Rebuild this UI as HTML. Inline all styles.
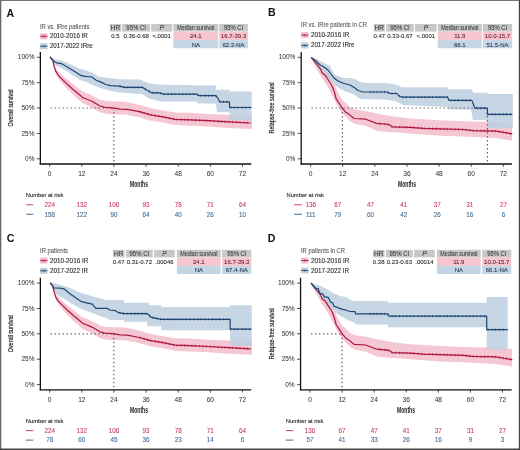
<!DOCTYPE html>
<html><head><meta charset="utf-8"><style>
html,body{margin:0;padding:0;background:#fff;}
body{width:520px;height:450px;overflow:hidden;}
svg{display:block;font-family:"Liberation Sans", sans-serif;filter:blur(0.35px);}
</style></head><body>
<svg width="520" height="450" viewBox="0 0 520 450">
<rect x="0" y="0" width="520" height="450" fill="#fff"/>
<text x="6.60" y="17.10" font-size="10.6" fill="#111" text-anchor="start" font-weight="bold">A</text>
<text x="40.00" y="28.60" font-size="6.5" fill="#555" text-anchor="start" textLength="49.4" lengthAdjust="spacingAndGlyphs" stroke="#555" stroke-width="0.08">IR vs. IRre patients</text>
<rect x="40.20" y="33.30" width="7.2" height="6.0" fill="#f3bccb"/>
<line x1="40.20" y1="36.30" x2="47.40" y2="36.30" stroke="#ad153c" stroke-width="0.9"/>
<line x1="43.80" y1="35.20" x2="43.80" y2="37.40" stroke="#ad153c" stroke-width="0.7"/>
<text x="49.90" y="38.20" font-size="6.3" fill="#2a2a2a" text-anchor="start" textLength="38.0" lengthAdjust="spacingAndGlyphs" stroke="#2a2a2a" stroke-width="0.1">2010-2016 IR</text>
<rect x="40.20" y="43.20" width="7.2" height="6.0" fill="#bccfdf"/>
<line x1="40.20" y1="46.20" x2="47.40" y2="46.20" stroke="#1d4672" stroke-width="0.9"/>
<line x1="43.80" y1="45.10" x2="43.80" y2="47.30" stroke="#1d4672" stroke-width="0.7"/>
<text x="49.90" y="48.10" font-size="6.3" fill="#2a2a2a" text-anchor="start" textLength="42.8" lengthAdjust="spacingAndGlyphs" stroke="#2a2a2a" stroke-width="0.1">2017-2022 IRre</text>
<rect x="109.70" y="24.00" width="11.50" height="7.60" fill="#c8c8c8"/>
<text x="115.45" y="30.00" font-size="6.5" fill="#333" text-anchor="middle" stroke="#333" stroke-width="0.05">HR</text>
<rect x="122.20" y="24.00" width="27.90" height="7.60" fill="#c8c8c8"/>
<text x="136.15" y="30.00" font-size="6.4" fill="#333" text-anchor="middle" textLength="19.6" lengthAdjust="spacingAndGlyphs" stroke="#333" stroke-width="0.05">95% CI</text>
<rect x="151.20" y="24.00" width="21.00" height="7.60" fill="#c8c8c8"/>
<text x="161.70" y="30.00" font-size="6.5" fill="#333" text-anchor="middle" font-style="italic" stroke="#333" stroke-width="0.05">P</text>
<rect x="173.40" y="24.00" width="44.80" height="7.60" fill="#c8c8c8"/>
<text x="195.80" y="30.00" font-size="6.5" fill="#333" text-anchor="middle" textLength="37.2" lengthAdjust="spacingAndGlyphs" stroke="#333" stroke-width="0.05">Median survival</text>
<rect x="219.20" y="24.00" width="28.70" height="7.60" fill="#c8c8c8"/>
<text x="233.55" y="30.00" font-size="6.4" fill="#333" text-anchor="middle" textLength="19.2" lengthAdjust="spacingAndGlyphs" stroke="#333" stroke-width="0.05">95% CI</text>
<rect x="173.40" y="31.60" width="44.80" height="8.50" fill="#f5c6cf"/>
<rect x="173.40" y="40.10" width="44.80" height="8.10" fill="#c4d6e3"/>
<rect x="219.20" y="31.60" width="28.70" height="8.50" fill="#f5c6cf"/>
<rect x="219.20" y="40.10" width="28.70" height="8.10" fill="#c4d6e3"/>
<text x="115.45" y="38.20" font-size="6" fill="#2a2a2a" text-anchor="middle" stroke="#2a2a2a" stroke-width="0.1">0.5</text>
<text x="136.15" y="38.20" font-size="6" fill="#2a2a2a" text-anchor="middle" stroke="#2a2a2a" stroke-width="0.1">0.36-0.68</text>
<text x="161.70" y="38.20" font-size="6" fill="#2a2a2a" text-anchor="middle" stroke="#2a2a2a" stroke-width="0.1">&lt;.0001</text>
<text x="195.80" y="38.10" font-size="6" fill="#6d1e2e" text-anchor="middle" stroke="#6d1e2e" stroke-width="0.1">24.1</text>
<text x="195.80" y="46.60" font-size="6" fill="#1f3650" text-anchor="middle" stroke="#1f3650" stroke-width="0.1">NA</text>
<text x="233.55" y="38.10" font-size="6" fill="#6d1e2e" text-anchor="middle" stroke="#6d1e2e" stroke-width="0.1">16.7-39.3</text>
<text x="233.55" y="46.60" font-size="6" fill="#1f3650" text-anchor="middle" stroke="#1f3650" stroke-width="0.1">62.3-NA</text>
<polygon points="50.00,57.00 52.00,57.67 54.00,63.33 56.00,68.65 58.00,71.31 60.00,73.21 63.00,75.79 66.00,78.40 70.00,81.70 74.00,84.78 78.00,87.85 82.00,91.17 86.00,93.00 90.00,94.49 95.00,96.94 100.00,99.75 105.00,100.85 110.00,101.16 125.00,101.70 140.00,105.00 150.00,108.00 163.00,110.50 175.00,112.50 190.00,112.80 208.00,114.00 228.00,114.80 252.00,116.00 252.00,129.00 228.00,128.00 208.00,126.50 190.00,125.70 175.00,125.00 163.00,122.50 150.00,120.50 140.00,117.50 125.00,114.40 110.00,114.16 105.00,113.60 100.00,112.25 95.00,109.19 90.00,106.49 86.00,104.73 82.00,102.64 78.00,99.05 74.00,95.58 70.00,91.70 66.00,87.60 63.00,84.21 60.00,80.79 58.00,78.31 56.00,74.45 54.00,67.93 52.00,60.33 50.00,57.00" fill="#f3bccb" fill-opacity="0.85"/>
<polygon points="50.00,57.00 56.00,59.80 60.00,60.00 68.00,63.00 80.00,68.70 85.00,70.10 91.90,72.40 98.80,76.40 108.00,78.10 119.60,79.30 140.00,79.50 149.00,83.50 160.80,84.70 215.80,85.50 215.80,89.80 229.60,89.80 229.60,91.50 251.70,91.50 251.70,120.30 229.60,120.30 229.60,112.30 217.00,112.30 215.80,103.60 198.00,103.60 196.50,101.40 160.80,101.40 149.20,98.50 142.70,94.30 119.60,92.60 108.00,90.30 96.50,86.80 85.00,81.60 80.00,80.00 68.00,72.00 60.00,67.30 56.00,65.90 53.00,63.00 50.00,57.00" fill="#bccfdf" fill-opacity="0.85"/>
<line x1="50.50" y1="108.00" x2="113.80" y2="108.00" stroke="#666" stroke-width="1.2" stroke-dasharray="1.4,2.6"/>
<line x1="113.80" y1="108.00" x2="113.80" y2="163.50" stroke="#666" stroke-width="1.2" stroke-dasharray="1.4,2.6"/>
<polyline points="50.00,57.00 52.80,59.80 53.90,65.30 55.60,70.90 58.30,75.30 62.80,79.80 67.20,84.20 72.80,89.20 78.30,93.70 82.80,97.60 85.10,98.50 92.00,101.30 100.00,106.00 105.30,107.30 113.10,107.90 120.00,109.10 127.10,109.30 139.50,111.70 150.40,114.80 162.90,116.80 175.30,119.40 190.00,119.90 208.00,120.70 228.20,121.80 250.80,123.00" fill="none" stroke="#ad153c" stroke-width="1.2" stroke-linejoin="round"/>
<path d="M140.00 110.74V112.94M144.00 111.88V114.08M147.50 112.88V115.08M151.00 113.80V116.00M155.00 114.44V116.64M158.50 115.00V117.20M162.50 115.64V117.84M166.00 116.35V118.55M169.50 117.08V119.28M173.50 117.92V120.12M177.00 118.36V120.56M181.00 118.49V120.69M184.50 118.61V120.81M188.00 118.73V120.93M192.00 118.89V121.09M195.50 119.04V121.24M199.50 119.22V121.42M203.00 119.38V121.58M206.50 119.53V121.73M210.50 119.74V121.94M214.00 119.93V122.13M218.00 120.14V122.34M221.50 120.34V122.54M225.00 120.53V122.73M229.00 120.74V122.94M232.50 120.93V123.13M236.50 121.14V123.34M240.00 121.33V123.53M244.00 121.54V123.74M247.50 121.72V123.92" stroke="#ad153c" stroke-width="0.8" fill="none"/>
<polyline points="50.00,57.00 53.30,60.90 57.20,63.10 61.70,63.70 67.20,67.00 73.90,70.90 80.60,75.30 85.00,76.40 91.90,77.00 96.50,80.50 100.00,81.60 105.80,84.50 110.40,85.60 119.60,86.20 124.20,87.40 142.70,87.40 145.00,89.10 151.50,92.80 159.60,92.80 163.10,94.10 196.50,94.10 198.80,95.60 215.80,95.60 218.10,98.50 219.80,101.90 229.40,101.90 229.60,107.50 251.50,107.50" fill="none" stroke="#1d4672" stroke-width="1.2" stroke-linejoin="round"/>
<path d="M120.00 85.20V87.40M123.50 86.12V88.32M127.00 86.30V88.50M131.00 86.30V88.50M134.50 86.30V88.50M138.00 86.30V88.50M142.00 86.30V88.50M145.50 88.28V90.48M149.50 90.56V92.76M153.00 91.70V93.90M156.50 91.70V93.90M160.50 92.03V94.23M164.00 93.00V95.20M168.00 93.00V95.20M171.50 93.00V95.20M175.00 93.00V95.20M179.00 93.00V95.20M182.50 93.00V95.20M186.50 93.00V95.20M190.00 93.00V95.20M194.00 93.00V95.20M197.50 93.65V95.85M201.00 94.50V96.70M205.00 94.50V96.70M208.50 94.50V96.70M212.50 94.50V96.70M216.00 94.75V96.95M219.50 100.20V102.40M223.50 100.80V103.00M227.00 100.80V103.00M231.00 106.40V108.60M234.50 106.40V108.60M238.00 106.40V108.60M242.00 106.40V108.60M245.50 106.40V108.60M249.50 106.40V108.60" stroke="#1d4672" stroke-width="0.8" fill="none"/>
<line x1="40.35" y1="51.90" x2="40.35" y2="164.60" stroke="#111" stroke-width="1.3"/>
<line x1="39.75" y1="164.00" x2="251.30" y2="164.00" stroke="#111" stroke-width="1.3"/>
<line x1="36.85" y1="57.30" x2="40.35" y2="57.30" stroke="#222" stroke-width="0.8"/>
<text x="34.45" y="59.00" font-size="6.5" fill="#3a3a3a" text-anchor="end" stroke="#3a3a3a" stroke-width="0.05">100%</text>
<line x1="36.85" y1="82.70" x2="40.35" y2="82.70" stroke="#222" stroke-width="0.8"/>
<text x="34.45" y="84.90" font-size="6.5" fill="#3a3a3a" text-anchor="end" stroke="#3a3a3a" stroke-width="0.05">75%</text>
<line x1="36.85" y1="108.00" x2="40.35" y2="108.00" stroke="#222" stroke-width="0.8"/>
<text x="34.45" y="110.20" font-size="6.5" fill="#3a3a3a" text-anchor="end" stroke="#3a3a3a" stroke-width="0.05">50%</text>
<line x1="36.85" y1="133.40" x2="40.35" y2="133.40" stroke="#222" stroke-width="0.8"/>
<text x="34.45" y="135.60" font-size="6.5" fill="#3a3a3a" text-anchor="end" stroke="#3a3a3a" stroke-width="0.05">25%</text>
<line x1="36.85" y1="158.80" x2="40.35" y2="158.80" stroke="#222" stroke-width="0.8"/>
<text x="34.45" y="161.00" font-size="6.5" fill="#3a3a3a" text-anchor="end" stroke="#3a3a3a" stroke-width="0.05">0%</text>
<line x1="49.70" y1="164.00" x2="49.70" y2="166.80" stroke="#222" stroke-width="0.8"/>
<text x="49.70" y="175.90" font-size="6.6" fill="#3a3a3a" text-anchor="middle" stroke="#3a3a3a" stroke-width="0.05">0</text>
<line x1="81.82" y1="164.00" x2="81.82" y2="166.80" stroke="#222" stroke-width="0.8"/>
<text x="81.82" y="175.90" font-size="6.6" fill="#3a3a3a" text-anchor="middle" stroke="#3a3a3a" stroke-width="0.05">12</text>
<line x1="113.94" y1="164.00" x2="113.94" y2="166.80" stroke="#222" stroke-width="0.8"/>
<text x="113.94" y="175.90" font-size="6.6" fill="#3a3a3a" text-anchor="middle" stroke="#3a3a3a" stroke-width="0.05">24</text>
<line x1="146.06" y1="164.00" x2="146.06" y2="166.80" stroke="#222" stroke-width="0.8"/>
<text x="146.06" y="175.90" font-size="6.6" fill="#3a3a3a" text-anchor="middle" stroke="#3a3a3a" stroke-width="0.05">36</text>
<line x1="178.18" y1="164.00" x2="178.18" y2="166.80" stroke="#222" stroke-width="0.8"/>
<text x="178.18" y="175.90" font-size="6.6" fill="#3a3a3a" text-anchor="middle" stroke="#3a3a3a" stroke-width="0.05">48</text>
<line x1="210.30" y1="164.00" x2="210.30" y2="166.80" stroke="#222" stroke-width="0.8"/>
<text x="210.30" y="175.90" font-size="6.6" fill="#3a3a3a" text-anchor="middle" stroke="#3a3a3a" stroke-width="0.05">60</text>
<line x1="242.42" y1="164.00" x2="242.42" y2="166.80" stroke="#222" stroke-width="0.8"/>
<text x="242.42" y="175.90" font-size="6.6" fill="#3a3a3a" text-anchor="middle" stroke="#3a3a3a" stroke-width="0.05">72</text>
<text x="139.00" y="186.90" font-size="8.2" fill="#222" text-anchor="middle" font-weight="bold" textLength="18" lengthAdjust="spacingAndGlyphs">Months</text>
<g transform="translate(13.40,108.00) rotate(-90)"><text x="0" y="0" font-size="7.2" fill="#333" stroke="#333" stroke-width="0.25" text-anchor="middle" textLength="37.0" lengthAdjust="spacingAndGlyphs">Overall survival</text></g>
<text x="25.80" y="197.00" font-size="5.8" fill="#222" text-anchor="start" textLength="37.5" lengthAdjust="spacingAndGlyphs" stroke="#222" stroke-width="0.1">Number at risk</text>
<line x1="26.30" y1="204.80" x2="33.30" y2="204.80" stroke="#cc3d66" stroke-width="1"/>
<line x1="26.30" y1="214.30" x2="33.30" y2="214.30" stroke="#446d94" stroke-width="1"/>
<text x="49.70" y="207.00" font-size="6.3" fill="#cc3d66" text-anchor="middle" stroke="#cc3d66" stroke-width="0.1">224</text>
<text x="49.70" y="216.60" font-size="6.3" fill="#446d94" text-anchor="middle" stroke="#446d94" stroke-width="0.1">158</text>
<text x="81.82" y="207.00" font-size="6.3" fill="#cc3d66" text-anchor="middle" stroke="#cc3d66" stroke-width="0.1">132</text>
<text x="81.82" y="216.60" font-size="6.3" fill="#446d94" text-anchor="middle" stroke="#446d94" stroke-width="0.1">122</text>
<text x="113.94" y="207.00" font-size="6.3" fill="#cc3d66" text-anchor="middle" stroke="#cc3d66" stroke-width="0.1">106</text>
<text x="113.94" y="216.60" font-size="6.3" fill="#446d94" text-anchor="middle" stroke="#446d94" stroke-width="0.1">90</text>
<text x="146.06" y="207.00" font-size="6.3" fill="#cc3d66" text-anchor="middle" stroke="#cc3d66" stroke-width="0.1">93</text>
<text x="146.06" y="216.60" font-size="6.3" fill="#446d94" text-anchor="middle" stroke="#446d94" stroke-width="0.1">64</text>
<text x="178.18" y="207.00" font-size="6.3" fill="#cc3d66" text-anchor="middle" stroke="#cc3d66" stroke-width="0.1">78</text>
<text x="178.18" y="216.60" font-size="6.3" fill="#446d94" text-anchor="middle" stroke="#446d94" stroke-width="0.1">40</text>
<text x="210.30" y="207.00" font-size="6.3" fill="#cc3d66" text-anchor="middle" stroke="#cc3d66" stroke-width="0.1">71</text>
<text x="210.30" y="216.60" font-size="6.3" fill="#446d94" text-anchor="middle" stroke="#446d94" stroke-width="0.1">26</text>
<text x="242.42" y="207.00" font-size="6.3" fill="#cc3d66" text-anchor="middle" stroke="#cc3d66" stroke-width="0.1">64</text>
<text x="242.42" y="216.60" font-size="6.3" fill="#446d94" text-anchor="middle" stroke="#446d94" stroke-width="0.1">10</text>
<text x="267.90" y="15.80" font-size="10.6" fill="#111" text-anchor="start" font-weight="bold">B</text>
<text x="301.00" y="27.40" font-size="6.5" fill="#555" text-anchor="start" textLength="66.0" lengthAdjust="spacingAndGlyphs" stroke="#555" stroke-width="0.08">IR vs. IRre patients in CR</text>
<rect x="301.20" y="32.10" width="7.2" height="6.0" fill="#f3bccb"/>
<line x1="301.20" y1="35.10" x2="308.40" y2="35.10" stroke="#ad153c" stroke-width="0.9"/>
<line x1="304.80" y1="34.00" x2="304.80" y2="36.20" stroke="#ad153c" stroke-width="0.7"/>
<text x="310.90" y="37.10" font-size="6.3" fill="#2a2a2a" text-anchor="start" textLength="38.4" lengthAdjust="spacingAndGlyphs" stroke="#2a2a2a" stroke-width="0.1">2010-2016 IR</text>
<rect x="301.20" y="42.40" width="7.2" height="6.0" fill="#bccfdf"/>
<line x1="301.20" y1="45.40" x2="308.40" y2="45.40" stroke="#1d4672" stroke-width="0.9"/>
<line x1="304.80" y1="44.30" x2="304.80" y2="46.50" stroke="#1d4672" stroke-width="0.7"/>
<text x="310.90" y="47.40" font-size="6.3" fill="#2a2a2a" text-anchor="start" textLength="43.6" lengthAdjust="spacingAndGlyphs" stroke="#2a2a2a" stroke-width="0.1">2017-2022 IRre</text>
<rect x="373.70" y="24.00" width="11.20" height="7.60" fill="#c8c8c8"/>
<text x="379.30" y="30.00" font-size="6.5" fill="#333" text-anchor="middle" stroke="#333" stroke-width="0.05">HR</text>
<rect x="386.10" y="24.00" width="27.80" height="7.60" fill="#c8c8c8"/>
<text x="400.00" y="30.00" font-size="6.4" fill="#333" text-anchor="middle" textLength="19.6" lengthAdjust="spacingAndGlyphs" stroke="#333" stroke-width="0.05">95% CI</text>
<rect x="415.00" y="24.00" width="21.60" height="7.60" fill="#c8c8c8"/>
<text x="425.80" y="30.00" font-size="6.5" fill="#333" text-anchor="middle" font-style="italic" stroke="#333" stroke-width="0.05">P</text>
<rect x="437.80" y="24.00" width="44.00" height="7.60" fill="#c8c8c8"/>
<text x="459.80" y="30.00" font-size="6.5" fill="#333" text-anchor="middle" textLength="37.2" lengthAdjust="spacingAndGlyphs" stroke="#333" stroke-width="0.05">Median survival</text>
<rect x="482.80" y="24.00" width="29.40" height="7.60" fill="#c8c8c8"/>
<text x="497.50" y="30.00" font-size="6.4" fill="#333" text-anchor="middle" textLength="19.2" lengthAdjust="spacingAndGlyphs" stroke="#333" stroke-width="0.05">95% CI</text>
<rect x="437.80" y="31.60" width="44.00" height="8.50" fill="#f5c6cf"/>
<rect x="437.80" y="40.10" width="44.00" height="8.10" fill="#c4d6e3"/>
<rect x="482.80" y="31.60" width="29.40" height="8.50" fill="#f5c6cf"/>
<rect x="482.80" y="40.10" width="29.40" height="8.10" fill="#c4d6e3"/>
<text x="379.30" y="38.20" font-size="6" fill="#2a2a2a" text-anchor="middle" stroke="#2a2a2a" stroke-width="0.1">0.47</text>
<text x="400.00" y="38.20" font-size="6" fill="#2a2a2a" text-anchor="middle" stroke="#2a2a2a" stroke-width="0.1">0.33-0.67</text>
<text x="425.80" y="38.20" font-size="6" fill="#2a2a2a" text-anchor="middle" stroke="#2a2a2a" stroke-width="0.1">&lt;.0001</text>
<text x="459.80" y="38.10" font-size="6" fill="#6d1e2e" text-anchor="middle" stroke="#6d1e2e" stroke-width="0.1">11.9</text>
<text x="459.80" y="46.60" font-size="6" fill="#1f3650" text-anchor="middle" stroke="#1f3650" stroke-width="0.1">66.1</text>
<text x="497.50" y="38.10" font-size="6" fill="#6d1e2e" text-anchor="middle" stroke="#6d1e2e" stroke-width="0.1">10.0-15.7</text>
<text x="497.50" y="46.60" font-size="6" fill="#1f3650" text-anchor="middle" stroke="#1f3650" stroke-width="0.1">51.5-NA</text>
<polygon points="311.00,57.00 316.00,61.00 320.00,64.00 324.00,68.00 328.00,73.00 332.00,79.00 335.00,86.00 338.00,93.00 342.00,99.50 346.00,103.00 350.00,107.00 355.00,109.50 366.00,111.00 377.00,113.50 390.00,116.00 410.00,118.50 440.00,120.20 463.00,121.20 496.00,122.00 512.00,123.00 512.00,140.70 496.00,138.10 463.00,136.50 440.00,135.80 410.00,133.50 390.00,132.00 377.00,131.00 366.00,126.00 355.00,124.00 350.00,121.00 346.00,117.00 342.00,113.00 337.00,105.00 334.00,99.00 330.00,91.00 326.00,84.00 322.00,78.00 318.00,71.00 314.00,64.00 311.00,57.00" fill="#f3bccb" fill-opacity="0.85"/>
<polygon points="311.00,57.00 316.00,58.50 320.00,61.00 330.00,66.00 334.00,74.00 338.00,76.00 344.00,78.00 350.00,78.00 355.00,79.00 360.00,82.00 365.00,83.00 387.00,83.00 397.00,85.00 402.00,87.30 447.70,87.30 447.70,89.20 472.00,89.20 473.00,92.70 487.40,92.70 487.40,93.90 512.80,93.90 512.80,128.00 487.40,128.00 487.40,119.90 473.00,119.90 471.00,109.80 447.70,109.30 447.70,106.90 403.00,105.00 395.00,101.00 385.00,99.50 360.00,99.00 355.00,95.00 350.00,93.00 344.00,91.00 334.00,85.00 328.00,78.00 320.00,70.00 314.00,62.00 311.00,57.00" fill="#bccfdf" fill-opacity="0.85"/>
<line x1="311.50" y1="108.00" x2="487.40" y2="108.00" stroke="#666" stroke-width="1.2" stroke-dasharray="1.4,2.6"/>
<line x1="342.40" y1="108.00" x2="342.40" y2="163.50" stroke="#666" stroke-width="1.2" stroke-dasharray="1.4,2.6"/>
<line x1="487.40" y1="108.00" x2="487.40" y2="163.50" stroke="#666" stroke-width="1.2" stroke-dasharray="1.4,2.6"/>
<polyline points="311.20,57.40 316.70,64.40 320.60,69.10 322.10,73.00 325.20,75.30 328.30,80.00 332.20,86.20 334.50,92.40 336.10,98.70 339.20,103.30 342.30,108.00 345.40,111.90 348.70,114.10 354.10,118.50 365.80,119.20 376.70,123.40 389.10,124.50 392.40,126.90 410.00,127.30 423.50,128.40 440.00,128.80 463.30,129.50 472.70,130.60 496.00,131.10 505.30,132.70 512.30,133.90" fill="none" stroke="#ad153c" stroke-width="1.2" stroke-linejoin="round"/>
<path d="M380.00 122.59V124.79M385.00 123.04V125.24M388.00 123.30V125.50M392.00 125.51V127.71M395.50 125.87V128.07M399.50 125.96V128.16M403.00 126.04V128.24M406.50 126.12V128.32M410.50 126.24V128.44M414.00 126.53V128.73M418.00 126.85V129.05M421.50 127.14V129.34M425.00 127.34V129.54M429.00 127.43V129.63M432.50 127.52V129.72M436.50 127.62V129.82M440.00 127.70V129.90M444.00 127.82V130.02M447.50 127.93V130.13M451.00 128.03V130.23M455.00 128.15V130.35M458.50 128.26V130.46M462.50 128.38V130.58M466.00 128.72V130.92M469.50 129.13V131.33M473.50 129.52V131.72M477.00 129.59V131.79M481.00 129.68V131.88M484.50 129.75V131.95M488.00 129.83V132.03M492.00 129.91V132.11M495.50 129.99V132.19M499.50 130.60V132.80M503.00 131.20V133.40M506.50 131.81V134.01M510.50 132.49V134.69" stroke="#ad153c" stroke-width="0.8" fill="none"/>
<polyline points="311.20,57.40 316.00,61.00 320.00,65.00 324.00,67.00 328.00,70.00 331.00,74.00 334.00,78.00 338.00,81.00 344.00,83.50 350.00,85.00 355.00,88.00 358.00,90.50 363.00,92.00 387.00,92.00 390.00,93.50 397.00,93.50 399.00,96.00 402.00,97.10 447.70,97.10 448.90,100.30 471.90,100.40 473.40,104.30 475.00,108.20 487.40,108.20 487.40,114.40 512.30,114.40" fill="none" stroke="#1d4672" stroke-width="1.2" stroke-linejoin="round"/>
<path d="M370.00 90.90V93.10M373.50 90.90V93.10M377.00 90.90V93.10M381.00 90.90V93.10M384.50 90.90V93.10M388.00 91.40V93.60M392.00 92.40V94.60M395.50 92.40V94.60M399.50 95.08V97.28M403.00 96.00V98.20M406.50 96.00V98.20M410.50 96.00V98.20M414.00 96.00V98.20M418.00 96.00V98.20M421.50 96.00V98.20M425.00 96.00V98.20M429.00 96.00V98.20M432.50 96.00V98.20M436.50 96.00V98.20M440.00 96.00V98.20M444.00 96.00V98.20M447.50 96.00V98.20M451.00 99.21V101.41M455.00 99.23V101.43M458.50 99.24V101.44M462.50 99.26V101.46M466.00 99.27V101.47M469.50 99.29V101.49M473.50 103.44V105.64M477.00 107.10V109.30M481.00 107.10V109.30M484.50 107.10V109.30M488.00 113.30V115.50M492.00 113.30V115.50M495.50 113.30V115.50M499.50 113.30V115.50M503.00 113.30V115.50M506.50 113.30V115.50M510.50 113.30V115.50" stroke="#1d4672" stroke-width="0.8" fill="none"/>
<line x1="301.20" y1="51.90" x2="301.20" y2="164.60" stroke="#111" stroke-width="1.3"/>
<line x1="300.60" y1="164.00" x2="511.90" y2="164.00" stroke="#111" stroke-width="1.3"/>
<line x1="297.70" y1="57.30" x2="301.20" y2="57.30" stroke="#222" stroke-width="0.8"/>
<text x="295.30" y="59.00" font-size="6.5" fill="#3a3a3a" text-anchor="end" stroke="#3a3a3a" stroke-width="0.05">100%</text>
<line x1="297.70" y1="82.70" x2="301.20" y2="82.70" stroke="#222" stroke-width="0.8"/>
<text x="295.30" y="84.90" font-size="6.5" fill="#3a3a3a" text-anchor="end" stroke="#3a3a3a" stroke-width="0.05">75%</text>
<line x1="297.70" y1="108.00" x2="301.20" y2="108.00" stroke="#222" stroke-width="0.8"/>
<text x="295.30" y="110.20" font-size="6.5" fill="#3a3a3a" text-anchor="end" stroke="#3a3a3a" stroke-width="0.05">50%</text>
<line x1="297.70" y1="133.40" x2="301.20" y2="133.40" stroke="#222" stroke-width="0.8"/>
<text x="295.30" y="135.60" font-size="6.5" fill="#3a3a3a" text-anchor="end" stroke="#3a3a3a" stroke-width="0.05">25%</text>
<line x1="297.70" y1="158.80" x2="301.20" y2="158.80" stroke="#222" stroke-width="0.8"/>
<text x="295.30" y="161.00" font-size="6.5" fill="#3a3a3a" text-anchor="end" stroke="#3a3a3a" stroke-width="0.05">0%</text>
<line x1="310.60" y1="164.00" x2="310.60" y2="166.80" stroke="#222" stroke-width="0.8"/>
<text x="310.60" y="175.90" font-size="6.6" fill="#3a3a3a" text-anchor="middle" stroke="#3a3a3a" stroke-width="0.05">0</text>
<line x1="342.72" y1="164.00" x2="342.72" y2="166.80" stroke="#222" stroke-width="0.8"/>
<text x="342.72" y="175.90" font-size="6.6" fill="#3a3a3a" text-anchor="middle" stroke="#3a3a3a" stroke-width="0.05">12</text>
<line x1="374.84" y1="164.00" x2="374.84" y2="166.80" stroke="#222" stroke-width="0.8"/>
<text x="374.84" y="175.90" font-size="6.6" fill="#3a3a3a" text-anchor="middle" stroke="#3a3a3a" stroke-width="0.05">24</text>
<line x1="406.96" y1="164.00" x2="406.96" y2="166.80" stroke="#222" stroke-width="0.8"/>
<text x="406.96" y="175.90" font-size="6.6" fill="#3a3a3a" text-anchor="middle" stroke="#3a3a3a" stroke-width="0.05">36</text>
<line x1="439.08" y1="164.00" x2="439.08" y2="166.80" stroke="#222" stroke-width="0.8"/>
<text x="439.08" y="175.90" font-size="6.6" fill="#3a3a3a" text-anchor="middle" stroke="#3a3a3a" stroke-width="0.05">48</text>
<line x1="471.20" y1="164.00" x2="471.20" y2="166.80" stroke="#222" stroke-width="0.8"/>
<text x="471.20" y="175.90" font-size="6.6" fill="#3a3a3a" text-anchor="middle" stroke="#3a3a3a" stroke-width="0.05">60</text>
<line x1="503.32" y1="164.00" x2="503.32" y2="166.80" stroke="#222" stroke-width="0.8"/>
<text x="503.32" y="175.90" font-size="6.6" fill="#3a3a3a" text-anchor="middle" stroke="#3a3a3a" stroke-width="0.05">72</text>
<text x="407.00" y="186.90" font-size="8.2" fill="#222" text-anchor="middle" font-weight="bold" textLength="18" lengthAdjust="spacingAndGlyphs">Months</text>
<g transform="translate(274.10,108.00) rotate(-90)"><text x="0" y="0" font-size="7.2" fill="#333" stroke="#333" stroke-width="0.25" text-anchor="middle" textLength="51.0" lengthAdjust="spacingAndGlyphs">Relapse-free survival</text></g>
<text x="286.50" y="197.00" font-size="5.8" fill="#222" text-anchor="start" textLength="37.5" lengthAdjust="spacingAndGlyphs" stroke="#222" stroke-width="0.1">Number at risk</text>
<line x1="294.20" y1="204.80" x2="301.80" y2="204.80" stroke="#cc3d66" stroke-width="1"/>
<line x1="294.20" y1="214.30" x2="301.80" y2="214.30" stroke="#446d94" stroke-width="1"/>
<text x="310.70" y="207.00" font-size="6.3" fill="#cc3d66" text-anchor="middle" stroke="#cc3d66" stroke-width="0.1">136</text>
<text x="310.70" y="216.60" font-size="6.3" fill="#446d94" text-anchor="middle" stroke="#446d94" stroke-width="0.1">111</text>
<text x="337.70" y="207.00" font-size="6.3" fill="#cc3d66" text-anchor="middle" stroke="#cc3d66" stroke-width="0.1">67</text>
<text x="337.70" y="216.60" font-size="6.3" fill="#446d94" text-anchor="middle" stroke="#446d94" stroke-width="0.1">79</text>
<text x="370.60" y="207.00" font-size="6.3" fill="#cc3d66" text-anchor="middle" stroke="#cc3d66" stroke-width="0.1">47</text>
<text x="370.60" y="216.60" font-size="6.3" fill="#446d94" text-anchor="middle" stroke="#446d94" stroke-width="0.1">60</text>
<text x="403.70" y="207.00" font-size="6.3" fill="#cc3d66" text-anchor="middle" stroke="#cc3d66" stroke-width="0.1">41</text>
<text x="403.70" y="216.60" font-size="6.3" fill="#446d94" text-anchor="middle" stroke="#446d94" stroke-width="0.1">42</text>
<text x="437.30" y="207.00" font-size="6.3" fill="#cc3d66" text-anchor="middle" stroke="#cc3d66" stroke-width="0.1">37</text>
<text x="437.30" y="216.60" font-size="6.3" fill="#446d94" text-anchor="middle" stroke="#446d94" stroke-width="0.1">26</text>
<text x="469.80" y="207.00" font-size="6.3" fill="#cc3d66" text-anchor="middle" stroke="#cc3d66" stroke-width="0.1">31</text>
<text x="469.80" y="216.60" font-size="6.3" fill="#446d94" text-anchor="middle" stroke="#446d94" stroke-width="0.1">16</text>
<text x="503.40" y="207.00" font-size="6.3" fill="#cc3d66" text-anchor="middle" stroke="#cc3d66" stroke-width="0.1">27</text>
<text x="503.40" y="216.60" font-size="6.3" fill="#446d94" text-anchor="middle" stroke="#446d94" stroke-width="0.1">6</text>
<text x="6.70" y="241.50" font-size="10.6" fill="#111" text-anchor="start" font-weight="bold">C</text>
<text x="40.00" y="252.90" font-size="6.5" fill="#555" text-anchor="start" textLength="28.0" lengthAdjust="spacingAndGlyphs" stroke="#555" stroke-width="0.08">IR patients</text>
<rect x="40.20" y="257.60" width="7.2" height="6.0" fill="#f3bccb"/>
<line x1="40.20" y1="260.60" x2="47.40" y2="260.60" stroke="#ad153c" stroke-width="0.9"/>
<line x1="43.80" y1="259.50" x2="43.80" y2="261.70" stroke="#ad153c" stroke-width="0.7"/>
<text x="49.90" y="263.00" font-size="6.3" fill="#2a2a2a" text-anchor="start" textLength="38.4" lengthAdjust="spacingAndGlyphs" stroke="#2a2a2a" stroke-width="0.1">2010-2016 IR</text>
<rect x="40.20" y="267.80" width="7.2" height="6.0" fill="#bccfdf"/>
<line x1="40.20" y1="270.80" x2="47.40" y2="270.80" stroke="#1d4672" stroke-width="0.9"/>
<line x1="43.80" y1="269.70" x2="43.80" y2="271.90" stroke="#1d4672" stroke-width="0.7"/>
<text x="49.90" y="273.20" font-size="6.3" fill="#2a2a2a" text-anchor="start" textLength="38.2" lengthAdjust="spacingAndGlyphs" stroke="#2a2a2a" stroke-width="0.1">2017-2022 IR</text>
<rect x="112.80" y="249.80" width="11.70" height="7.60" fill="#c8c8c8"/>
<text x="118.65" y="255.80" font-size="6.5" fill="#333" text-anchor="middle" stroke="#333" stroke-width="0.05">HR</text>
<rect x="125.90" y="249.80" width="26.90" height="7.60" fill="#c8c8c8"/>
<text x="139.35" y="255.80" font-size="6.4" fill="#333" text-anchor="middle" textLength="19.6" lengthAdjust="spacingAndGlyphs" stroke="#333" stroke-width="0.05">95% CI</text>
<rect x="154.10" y="249.80" width="20.70" height="7.60" fill="#c8c8c8"/>
<text x="164.45" y="255.80" font-size="6.5" fill="#333" text-anchor="middle" font-style="italic" stroke="#333" stroke-width="0.05">P</text>
<rect x="176.90" y="249.80" width="43.80" height="7.60" fill="#c8c8c8"/>
<text x="198.80" y="255.80" font-size="6.5" fill="#333" text-anchor="middle" textLength="37.2" lengthAdjust="spacingAndGlyphs" stroke="#333" stroke-width="0.05">Median survival</text>
<rect x="222.20" y="249.80" width="29.10" height="7.60" fill="#c8c8c8"/>
<text x="236.75" y="255.80" font-size="6.4" fill="#333" text-anchor="middle" textLength="19.2" lengthAdjust="spacingAndGlyphs" stroke="#333" stroke-width="0.05">95% CI</text>
<rect x="176.90" y="257.40" width="43.80" height="8.50" fill="#f5c6cf"/>
<rect x="176.90" y="265.90" width="43.80" height="8.10" fill="#c4d6e3"/>
<rect x="222.20" y="257.40" width="29.10" height="8.50" fill="#f5c6cf"/>
<rect x="222.20" y="265.90" width="29.10" height="8.10" fill="#c4d6e3"/>
<text x="118.65" y="264.00" font-size="6" fill="#2a2a2a" text-anchor="middle" stroke="#2a2a2a" stroke-width="0.1">0.47</text>
<text x="139.35" y="264.00" font-size="6" fill="#2a2a2a" text-anchor="middle" stroke="#2a2a2a" stroke-width="0.1">0.31-0.72</text>
<text x="164.45" y="264.00" font-size="6" fill="#2a2a2a" text-anchor="middle" stroke="#2a2a2a" stroke-width="0.1">.00046</text>
<text x="198.80" y="263.90" font-size="6" fill="#6d1e2e" text-anchor="middle" stroke="#6d1e2e" stroke-width="0.1">24.1</text>
<text x="198.80" y="272.40" font-size="6" fill="#1f3650" text-anchor="middle" stroke="#1f3650" stroke-width="0.1">NA</text>
<text x="236.75" y="263.90" font-size="6" fill="#6d1e2e" text-anchor="middle" stroke="#6d1e2e" stroke-width="0.1">16.7-39.3</text>
<text x="236.75" y="272.40" font-size="6" fill="#1f3650" text-anchor="middle" stroke="#1f3650" stroke-width="0.1">67.4-NA</text>
<polygon points="50.00,282.80 52.00,283.47 54.00,289.13 56.00,294.45 58.00,297.11 60.00,299.01 63.00,301.59 66.00,304.20 70.00,307.50 74.00,310.58 78.00,313.65 82.00,316.97 86.00,318.80 90.00,320.29 95.00,322.74 100.00,325.55 105.00,326.65 110.00,326.96 125.00,327.50 140.00,330.80 150.00,333.80 163.00,336.30 175.00,338.30 190.00,338.60 208.00,339.80 228.00,340.60 252.00,341.80 252.00,354.80 228.00,353.80 208.00,352.30 190.00,351.50 175.00,350.80 163.00,348.30 150.00,346.30 140.00,343.30 125.00,340.20 110.00,339.96 105.00,339.40 100.00,338.05 95.00,334.99 90.00,332.29 86.00,330.53 82.00,328.44 78.00,324.85 74.00,321.38 70.00,317.50 66.00,313.40 63.00,310.01 60.00,306.59 58.00,304.11 56.00,300.25 54.00,293.73 52.00,286.13 50.00,282.80" fill="#f3bccb" fill-opacity="0.85"/>
<polygon points="50.00,282.50 56.00,283.50 69.00,287.50 80.00,292.50 95.00,297.00 106.00,300.00 124.00,300.00 124.00,302.70 148.90,302.70 148.90,305.30 161.30,305.30 161.30,306.90 230.00,306.90 230.00,305.30 251.80,305.30 251.80,345.70 230.00,345.70 230.00,330.20 161.30,330.20 161.30,326.30 147.30,326.30 147.30,321.70 124.00,321.70 124.00,320.10 110.00,320.10 106.00,318.00 95.00,314.00 80.00,308.50 69.00,301.90 56.00,294.00 53.00,289.00 50.00,282.50" fill="#bccfdf" fill-opacity="0.85"/>
<line x1="50.50" y1="333.80" x2="113.80" y2="333.80" stroke="#666" stroke-width="1.2" stroke-dasharray="1.4,2.6"/>
<line x1="113.80" y1="333.80" x2="113.80" y2="389.30" stroke="#666" stroke-width="1.2" stroke-dasharray="1.4,2.6"/>
<polyline points="50.00,282.80 52.80,285.60 53.90,291.10 55.60,296.70 58.30,301.10 62.80,305.60 67.20,310.00 72.80,315.00 78.30,319.50 82.80,323.40 85.10,324.30 92.00,327.10 100.00,331.80 105.30,333.10 113.10,333.70 120.00,334.90 127.10,335.10 139.50,337.50 150.40,340.60 162.90,342.60 175.30,345.20 190.00,345.70 208.00,346.50 228.20,347.60 250.80,348.80" fill="none" stroke="#ad153c" stroke-width="1.2" stroke-linejoin="round"/>
<path d="M140.00 336.54V338.74M144.00 337.68V339.88M147.50 338.68V340.88M151.00 339.60V341.80M155.00 340.24V342.44M158.50 340.80V343.00M162.50 341.44V343.64M166.00 342.15V344.35M169.50 342.88V345.08M173.50 343.72V345.92M177.00 344.16V346.36M181.00 344.29V346.49M184.50 344.41V346.61M188.00 344.53V346.73M192.00 344.69V346.89M195.50 344.84V347.04M199.50 345.02V347.22M203.00 345.18V347.38M206.50 345.33V347.53M210.50 345.54V347.74M214.00 345.73V347.93M218.00 345.94V348.14M221.50 346.14V348.34M225.00 346.33V348.53M229.00 346.54V348.74M232.50 346.73V348.93M236.50 346.94V349.14M240.00 347.13V349.33M244.00 347.34V349.54M247.50 347.52V349.72" stroke="#ad153c" stroke-width="0.8" fill="none"/>
<polyline points="50.30,282.80 53.90,288.00 60.00,288.10 64.60,289.20 69.20,293.30 75.00,297.30 80.80,301.30 87.70,303.10 92.30,304.20 95.80,308.30 107.30,308.30 109.60,310.00 115.40,310.60 117.70,312.30 124.00,313.60 147.30,313.60 151.20,317.30 161.30,319.30 230.10,319.30 230.10,329.10 251.50,329.10" fill="none" stroke="#1d4672" stroke-width="1.2" stroke-linejoin="round"/>
<path d="M120.00 311.67V313.87M123.50 312.40V314.60M127.00 312.50V314.70M131.00 312.50V314.70M134.50 312.50V314.70M138.00 312.50V314.70M142.00 312.50V314.70M145.50 312.50V314.70M149.50 314.59V316.79M153.00 316.56V318.76M156.50 317.25V319.45M160.50 318.04V320.24M164.00 318.20V320.40M168.00 318.20V320.40M171.50 318.20V320.40M175.00 318.20V320.40M179.00 318.20V320.40M182.50 318.20V320.40M186.50 318.20V320.40M190.00 318.20V320.40M194.00 318.20V320.40M197.50 318.20V320.40M201.00 318.20V320.40M205.00 318.20V320.40M208.50 318.20V320.40M212.50 318.20V320.40M216.00 318.20V320.40M219.50 318.20V320.40M223.50 318.20V320.40M227.00 318.20V320.40M231.00 328.00V330.20M234.50 328.00V330.20M238.00 328.00V330.20M242.00 328.00V330.20M245.50 328.00V330.20M249.50 328.00V330.20" stroke="#1d4672" stroke-width="0.8" fill="none"/>
<line x1="40.35" y1="277.70" x2="40.35" y2="390.40" stroke="#111" stroke-width="1.3"/>
<line x1="39.75" y1="389.80" x2="251.30" y2="389.80" stroke="#111" stroke-width="1.3"/>
<line x1="36.85" y1="283.10" x2="40.35" y2="283.10" stroke="#222" stroke-width="0.8"/>
<text x="34.45" y="284.80" font-size="6.5" fill="#3a3a3a" text-anchor="end" stroke="#3a3a3a" stroke-width="0.05">100%</text>
<line x1="36.85" y1="308.50" x2="40.35" y2="308.50" stroke="#222" stroke-width="0.8"/>
<text x="34.45" y="310.70" font-size="6.5" fill="#3a3a3a" text-anchor="end" stroke="#3a3a3a" stroke-width="0.05">75%</text>
<line x1="36.85" y1="333.80" x2="40.35" y2="333.80" stroke="#222" stroke-width="0.8"/>
<text x="34.45" y="336.00" font-size="6.5" fill="#3a3a3a" text-anchor="end" stroke="#3a3a3a" stroke-width="0.05">50%</text>
<line x1="36.85" y1="359.20" x2="40.35" y2="359.20" stroke="#222" stroke-width="0.8"/>
<text x="34.45" y="361.40" font-size="6.5" fill="#3a3a3a" text-anchor="end" stroke="#3a3a3a" stroke-width="0.05">25%</text>
<line x1="36.85" y1="384.60" x2="40.35" y2="384.60" stroke="#222" stroke-width="0.8"/>
<text x="34.45" y="386.80" font-size="6.5" fill="#3a3a3a" text-anchor="end" stroke="#3a3a3a" stroke-width="0.05">0%</text>
<line x1="49.70" y1="389.80" x2="49.70" y2="392.60" stroke="#222" stroke-width="0.8"/>
<text x="49.70" y="401.70" font-size="6.6" fill="#3a3a3a" text-anchor="middle" stroke="#3a3a3a" stroke-width="0.05">0</text>
<line x1="81.82" y1="389.80" x2="81.82" y2="392.60" stroke="#222" stroke-width="0.8"/>
<text x="81.82" y="401.70" font-size="6.6" fill="#3a3a3a" text-anchor="middle" stroke="#3a3a3a" stroke-width="0.05">12</text>
<line x1="113.94" y1="389.80" x2="113.94" y2="392.60" stroke="#222" stroke-width="0.8"/>
<text x="113.94" y="401.70" font-size="6.6" fill="#3a3a3a" text-anchor="middle" stroke="#3a3a3a" stroke-width="0.05">24</text>
<line x1="146.06" y1="389.80" x2="146.06" y2="392.60" stroke="#222" stroke-width="0.8"/>
<text x="146.06" y="401.70" font-size="6.6" fill="#3a3a3a" text-anchor="middle" stroke="#3a3a3a" stroke-width="0.05">36</text>
<line x1="178.18" y1="389.80" x2="178.18" y2="392.60" stroke="#222" stroke-width="0.8"/>
<text x="178.18" y="401.70" font-size="6.6" fill="#3a3a3a" text-anchor="middle" stroke="#3a3a3a" stroke-width="0.05">48</text>
<line x1="210.30" y1="389.80" x2="210.30" y2="392.60" stroke="#222" stroke-width="0.8"/>
<text x="210.30" y="401.70" font-size="6.6" fill="#3a3a3a" text-anchor="middle" stroke="#3a3a3a" stroke-width="0.05">60</text>
<line x1="242.42" y1="389.80" x2="242.42" y2="392.60" stroke="#222" stroke-width="0.8"/>
<text x="242.42" y="401.70" font-size="6.6" fill="#3a3a3a" text-anchor="middle" stroke="#3a3a3a" stroke-width="0.05">72</text>
<text x="139.00" y="412.70" font-size="8.2" fill="#222" text-anchor="middle" font-weight="bold" textLength="18" lengthAdjust="spacingAndGlyphs">Months</text>
<g transform="translate(13.40,333.80) rotate(-90)"><text x="0" y="0" font-size="7.2" fill="#333" stroke="#333" stroke-width="0.25" text-anchor="middle" textLength="37.0" lengthAdjust="spacingAndGlyphs">Overall survival</text></g>
<text x="25.80" y="422.80" font-size="5.8" fill="#222" text-anchor="start" textLength="37.5" lengthAdjust="spacingAndGlyphs" stroke="#222" stroke-width="0.1">Number at risk</text>
<line x1="25.80" y1="430.60" x2="33.30" y2="430.60" stroke="#cc3d66" stroke-width="1"/>
<line x1="25.80" y1="440.10" x2="33.30" y2="440.10" stroke="#446d94" stroke-width="1"/>
<text x="49.70" y="432.80" font-size="6.3" fill="#cc3d66" text-anchor="middle" stroke="#cc3d66" stroke-width="0.1">224</text>
<text x="49.70" y="442.40" font-size="6.3" fill="#446d94" text-anchor="middle" stroke="#446d94" stroke-width="0.1">78</text>
<text x="81.82" y="432.80" font-size="6.3" fill="#cc3d66" text-anchor="middle" stroke="#cc3d66" stroke-width="0.1">132</text>
<text x="81.82" y="442.40" font-size="6.3" fill="#446d94" text-anchor="middle" stroke="#446d94" stroke-width="0.1">60</text>
<text x="113.94" y="432.80" font-size="6.3" fill="#cc3d66" text-anchor="middle" stroke="#cc3d66" stroke-width="0.1">106</text>
<text x="113.94" y="442.40" font-size="6.3" fill="#446d94" text-anchor="middle" stroke="#446d94" stroke-width="0.1">45</text>
<text x="146.06" y="432.80" font-size="6.3" fill="#cc3d66" text-anchor="middle" stroke="#cc3d66" stroke-width="0.1">93</text>
<text x="146.06" y="442.40" font-size="6.3" fill="#446d94" text-anchor="middle" stroke="#446d94" stroke-width="0.1">36</text>
<text x="178.18" y="432.80" font-size="6.3" fill="#cc3d66" text-anchor="middle" stroke="#cc3d66" stroke-width="0.1">78</text>
<text x="178.18" y="442.40" font-size="6.3" fill="#446d94" text-anchor="middle" stroke="#446d94" stroke-width="0.1">23</text>
<text x="210.30" y="432.80" font-size="6.3" fill="#cc3d66" text-anchor="middle" stroke="#cc3d66" stroke-width="0.1">71</text>
<text x="210.30" y="442.40" font-size="6.3" fill="#446d94" text-anchor="middle" stroke="#446d94" stroke-width="0.1">14</text>
<text x="242.42" y="432.80" font-size="6.3" fill="#cc3d66" text-anchor="middle" stroke="#cc3d66" stroke-width="0.1">64</text>
<text x="242.42" y="442.40" font-size="6.3" fill="#446d94" text-anchor="middle" stroke="#446d94" stroke-width="0.1">6</text>
<text x="267.70" y="241.50" font-size="10.6" fill="#111" text-anchor="start" font-weight="bold">D</text>
<text x="301.00" y="253.00" font-size="6.5" fill="#555" text-anchor="start" textLength="44.0" lengthAdjust="spacingAndGlyphs" stroke="#555" stroke-width="0.08">IR patients in CR</text>
<rect x="301.20" y="257.50" width="7.2" height="6.0" fill="#f3bccb"/>
<line x1="301.20" y1="260.50" x2="308.40" y2="260.50" stroke="#ad153c" stroke-width="0.9"/>
<line x1="304.80" y1="259.40" x2="304.80" y2="261.60" stroke="#ad153c" stroke-width="0.7"/>
<text x="310.90" y="263.00" font-size="6.3" fill="#2a2a2a" text-anchor="start" textLength="38.4" lengthAdjust="spacingAndGlyphs" stroke="#2a2a2a" stroke-width="0.1">2010-2016 IR</text>
<rect x="301.20" y="267.50" width="7.2" height="6.0" fill="#bccfdf"/>
<line x1="301.20" y1="270.50" x2="308.40" y2="270.50" stroke="#1d4672" stroke-width="0.9"/>
<line x1="304.80" y1="269.40" x2="304.80" y2="271.60" stroke="#1d4672" stroke-width="0.7"/>
<text x="310.90" y="273.00" font-size="6.3" fill="#2a2a2a" text-anchor="start" textLength="38.2" lengthAdjust="spacingAndGlyphs" stroke="#2a2a2a" stroke-width="0.1">2017-2022 IR</text>
<rect x="372.80" y="249.80" width="11.70" height="7.60" fill="#c8c8c8"/>
<text x="378.65" y="255.80" font-size="6.5" fill="#333" text-anchor="middle" stroke="#333" stroke-width="0.05">HR</text>
<rect x="385.90" y="249.80" width="26.90" height="7.60" fill="#c8c8c8"/>
<text x="399.35" y="255.80" font-size="6.4" fill="#333" text-anchor="middle" textLength="19.6" lengthAdjust="spacingAndGlyphs" stroke="#333" stroke-width="0.05">95% CI</text>
<rect x="414.10" y="249.80" width="20.70" height="7.60" fill="#c8c8c8"/>
<text x="424.45" y="255.80" font-size="6.5" fill="#333" text-anchor="middle" font-style="italic" stroke="#333" stroke-width="0.05">P</text>
<rect x="436.90" y="249.80" width="43.80" height="7.60" fill="#c8c8c8"/>
<text x="458.80" y="255.80" font-size="6.5" fill="#333" text-anchor="middle" textLength="37.2" lengthAdjust="spacingAndGlyphs" stroke="#333" stroke-width="0.05">Median survival</text>
<rect x="482.20" y="249.80" width="29.10" height="7.60" fill="#c8c8c8"/>
<text x="496.75" y="255.80" font-size="6.4" fill="#333" text-anchor="middle" textLength="19.2" lengthAdjust="spacingAndGlyphs" stroke="#333" stroke-width="0.05">95% CI</text>
<rect x="436.90" y="257.40" width="43.80" height="8.50" fill="#f5c6cf"/>
<rect x="436.90" y="265.90" width="43.80" height="8.10" fill="#c4d6e3"/>
<rect x="482.20" y="257.40" width="29.10" height="8.50" fill="#f5c6cf"/>
<rect x="482.20" y="265.90" width="29.10" height="8.10" fill="#c4d6e3"/>
<text x="378.65" y="264.00" font-size="6" fill="#2a2a2a" text-anchor="middle" stroke="#2a2a2a" stroke-width="0.1">0.38</text>
<text x="399.35" y="264.00" font-size="6" fill="#2a2a2a" text-anchor="middle" stroke="#2a2a2a" stroke-width="0.1">0.23-0.63</text>
<text x="424.45" y="264.00" font-size="6" fill="#2a2a2a" text-anchor="middle" stroke="#2a2a2a" stroke-width="0.1">.00014</text>
<text x="458.80" y="263.90" font-size="6" fill="#6d1e2e" text-anchor="middle" stroke="#6d1e2e" stroke-width="0.1">11.9</text>
<text x="458.80" y="272.40" font-size="6" fill="#1f3650" text-anchor="middle" stroke="#1f3650" stroke-width="0.1">NA</text>
<text x="496.75" y="263.90" font-size="6" fill="#6d1e2e" text-anchor="middle" stroke="#6d1e2e" stroke-width="0.1">10.0-15.7</text>
<text x="496.75" y="272.40" font-size="6" fill="#1f3650" text-anchor="middle" stroke="#1f3650" stroke-width="0.1">66.1-NA</text>
<polygon points="311.00,282.80 316.00,286.80 320.00,289.80 324.00,293.80 328.00,298.80 332.00,304.80 335.00,311.80 338.00,318.80 342.00,325.30 346.00,328.80 350.00,332.80 355.00,335.30 366.00,336.80 377.00,339.30 390.00,341.80 410.00,344.30 440.00,346.00 463.00,347.00 496.00,347.80 512.00,348.80 512.00,366.50 496.00,363.90 463.00,362.30 440.00,361.60 410.00,359.30 390.00,357.80 377.00,356.80 366.00,351.80 355.00,349.80 350.00,346.80 346.00,342.80 342.00,338.80 337.00,330.80 334.00,324.80 330.00,316.80 326.00,309.80 322.00,303.80 318.00,296.80 314.00,289.80 311.00,282.80" fill="#f3bccb" fill-opacity="0.85"/>
<polygon points="311.00,283.00 320.00,285.80 328.00,289.70 333.00,293.00 340.00,296.00 346.00,297.00 350.00,299.40 352.00,301.10 387.80,301.10 387.80,302.80 486.70,302.80 486.70,297.00 507.70,297.00 507.70,349.20 486.70,349.20 486.70,327.20 387.80,327.20 387.80,324.40 355.60,324.40 355.00,322.80 349.40,320.80 338.30,314.70 327.20,304.70 320.00,296.00 315.00,289.00 311.00,283.00" fill="#bccfdf" fill-opacity="0.85"/>
<line x1="311.00" y1="333.80" x2="342.00" y2="333.80" stroke="#666" stroke-width="1.2" stroke-dasharray="1.4,2.6"/>
<line x1="342.00" y1="333.80" x2="342.00" y2="389.30" stroke="#666" stroke-width="1.2" stroke-dasharray="1.4,2.6"/>
<polyline points="311.20,283.20 316.70,290.20 320.60,294.90 322.10,298.80 325.20,301.10 328.30,305.80 332.20,312.00 334.50,318.20 336.10,324.50 339.20,329.10 342.30,333.80 345.40,337.70 348.70,339.90 354.10,344.30 365.80,345.00 376.70,349.20 389.10,350.30 392.40,352.70 410.00,353.10 423.50,354.20 440.00,354.60 463.30,355.30 472.70,356.40 496.00,356.90 505.30,358.50 512.30,359.70" fill="none" stroke="#ad153c" stroke-width="1.2" stroke-linejoin="round"/>
<path d="M380.00 348.39V350.59M385.00 348.84V351.04M388.00 349.10V351.30M392.00 351.31V353.51M395.50 351.67V353.87M399.50 351.76V353.96M403.00 351.84V354.04M406.50 351.92V354.12M410.50 352.04V354.24M414.00 352.33V354.53M418.00 352.65V354.85M421.50 352.94V355.14M425.00 353.14V355.34M429.00 353.23V355.43M432.50 353.32V355.52M436.50 353.42V355.62M440.00 353.50V355.70M444.00 353.62V355.82M447.50 353.73V355.93M451.00 353.83V356.03M455.00 353.95V356.15M458.50 354.06V356.26M462.50 354.18V356.38M466.00 354.52V356.72M469.50 354.93V357.13M473.50 355.32V357.52M477.00 355.39V357.59M481.00 355.48V357.68M484.50 355.55V357.75M488.00 355.63V357.83M492.00 355.71V357.91M495.50 355.79V357.99M499.50 356.40V358.60M503.00 357.00V359.20M506.50 357.61V359.81M510.50 358.29V360.49" stroke="#ad153c" stroke-width="0.8" fill="none"/>
<polyline points="310.90,283.00 315.00,288.00 318.30,288.60 319.40,293.00 322.80,294.10 324.40,296.90 328.30,297.40 330.60,301.90 332.80,303.00 333.90,306.30 337.20,307.40 341.70,309.10 346.10,310.20 349.40,311.30 355.00,311.70 355.60,313.90 387.80,313.90 388.90,316.10 486.70,316.10 486.70,329.70 508.00,329.70" fill="none" stroke="#1d4672" stroke-width="1.2" stroke-linejoin="round"/>
<path d="M370.00 312.80V315.00M373.50 312.80V315.00M377.00 312.80V315.00M381.00 312.80V315.00M384.50 312.80V315.00M388.00 313.20V315.40M392.00 315.00V317.20M395.50 315.00V317.20M399.50 315.00V317.20M403.00 315.00V317.20M406.50 315.00V317.20M410.50 315.00V317.20M414.00 315.00V317.20M418.00 315.00V317.20M421.50 315.00V317.20M425.00 315.00V317.20M429.00 315.00V317.20M432.50 315.00V317.20M436.50 315.00V317.20M440.00 315.00V317.20M444.00 315.00V317.20M447.50 315.00V317.20M451.00 315.00V317.20M455.00 315.00V317.20M458.50 315.00V317.20M462.50 315.00V317.20M466.00 315.00V317.20M469.50 315.00V317.20M473.50 315.00V317.20M477.00 315.00V317.20M481.00 315.00V317.20M484.50 315.00V317.20M488.00 328.60V330.80M492.00 328.60V330.80M495.50 328.60V330.80M499.50 328.60V330.80M503.00 328.60V330.80" stroke="#1d4672" stroke-width="0.8" fill="none"/>
<line x1="300.55" y1="277.70" x2="300.55" y2="390.40" stroke="#111" stroke-width="1.3"/>
<line x1="299.95" y1="389.80" x2="511.70" y2="389.80" stroke="#111" stroke-width="1.3"/>
<line x1="297.05" y1="283.10" x2="300.55" y2="283.10" stroke="#222" stroke-width="0.8"/>
<text x="294.65" y="284.80" font-size="6.5" fill="#3a3a3a" text-anchor="end" stroke="#3a3a3a" stroke-width="0.05">100%</text>
<line x1="297.05" y1="308.50" x2="300.55" y2="308.50" stroke="#222" stroke-width="0.8"/>
<text x="294.65" y="310.70" font-size="6.5" fill="#3a3a3a" text-anchor="end" stroke="#3a3a3a" stroke-width="0.05">75%</text>
<line x1="297.05" y1="333.80" x2="300.55" y2="333.80" stroke="#222" stroke-width="0.8"/>
<text x="294.65" y="336.00" font-size="6.5" fill="#3a3a3a" text-anchor="end" stroke="#3a3a3a" stroke-width="0.05">50%</text>
<line x1="297.05" y1="359.20" x2="300.55" y2="359.20" stroke="#222" stroke-width="0.8"/>
<text x="294.65" y="361.40" font-size="6.5" fill="#3a3a3a" text-anchor="end" stroke="#3a3a3a" stroke-width="0.05">25%</text>
<line x1="297.05" y1="384.60" x2="300.55" y2="384.60" stroke="#222" stroke-width="0.8"/>
<text x="294.65" y="386.80" font-size="6.5" fill="#3a3a3a" text-anchor="end" stroke="#3a3a3a" stroke-width="0.05">0%</text>
<line x1="310.00" y1="389.80" x2="310.00" y2="392.60" stroke="#222" stroke-width="0.8"/>
<text x="310.00" y="401.70" font-size="6.6" fill="#3a3a3a" text-anchor="middle" stroke="#3a3a3a" stroke-width="0.05">0</text>
<line x1="342.08" y1="389.80" x2="342.08" y2="392.60" stroke="#222" stroke-width="0.8"/>
<text x="342.08" y="401.70" font-size="6.6" fill="#3a3a3a" text-anchor="middle" stroke="#3a3a3a" stroke-width="0.05">12</text>
<line x1="374.16" y1="389.80" x2="374.16" y2="392.60" stroke="#222" stroke-width="0.8"/>
<text x="374.16" y="401.70" font-size="6.6" fill="#3a3a3a" text-anchor="middle" stroke="#3a3a3a" stroke-width="0.05">24</text>
<line x1="406.24" y1="389.80" x2="406.24" y2="392.60" stroke="#222" stroke-width="0.8"/>
<text x="406.24" y="401.70" font-size="6.6" fill="#3a3a3a" text-anchor="middle" stroke="#3a3a3a" stroke-width="0.05">36</text>
<line x1="438.32" y1="389.80" x2="438.32" y2="392.60" stroke="#222" stroke-width="0.8"/>
<text x="438.32" y="401.70" font-size="6.6" fill="#3a3a3a" text-anchor="middle" stroke="#3a3a3a" stroke-width="0.05">48</text>
<line x1="470.40" y1="389.80" x2="470.40" y2="392.60" stroke="#222" stroke-width="0.8"/>
<text x="470.40" y="401.70" font-size="6.6" fill="#3a3a3a" text-anchor="middle" stroke="#3a3a3a" stroke-width="0.05">60</text>
<line x1="502.48" y1="389.80" x2="502.48" y2="392.60" stroke="#222" stroke-width="0.8"/>
<text x="502.48" y="401.70" font-size="6.6" fill="#3a3a3a" text-anchor="middle" stroke="#3a3a3a" stroke-width="0.05">72</text>
<text x="406.00" y="412.70" font-size="8.2" fill="#222" text-anchor="middle" font-weight="bold" textLength="18" lengthAdjust="spacingAndGlyphs">Months</text>
<g transform="translate(274.10,333.80) rotate(-90)"><text x="0" y="0" font-size="7.2" fill="#333" stroke="#333" stroke-width="0.25" text-anchor="middle" textLength="51.0" lengthAdjust="spacingAndGlyphs">Relapse-free survival</text></g>
<text x="285.80" y="422.80" font-size="5.8" fill="#222" text-anchor="start" textLength="37.5" lengthAdjust="spacingAndGlyphs" stroke="#222" stroke-width="0.1">Number at risk</text>
<line x1="285.80" y1="430.60" x2="293.30" y2="430.60" stroke="#cc3d66" stroke-width="1"/>
<line x1="285.80" y1="440.10" x2="293.30" y2="440.10" stroke="#446d94" stroke-width="1"/>
<text x="310.00" y="432.80" font-size="6.3" fill="#cc3d66" text-anchor="middle" stroke="#cc3d66" stroke-width="0.1">136</text>
<text x="310.00" y="442.40" font-size="6.3" fill="#446d94" text-anchor="middle" stroke="#446d94" stroke-width="0.1">57</text>
<text x="342.08" y="432.80" font-size="6.3" fill="#cc3d66" text-anchor="middle" stroke="#cc3d66" stroke-width="0.1">67</text>
<text x="342.08" y="442.40" font-size="6.3" fill="#446d94" text-anchor="middle" stroke="#446d94" stroke-width="0.1">41</text>
<text x="374.16" y="432.80" font-size="6.3" fill="#cc3d66" text-anchor="middle" stroke="#cc3d66" stroke-width="0.1">47</text>
<text x="374.16" y="442.40" font-size="6.3" fill="#446d94" text-anchor="middle" stroke="#446d94" stroke-width="0.1">33</text>
<text x="406.24" y="432.80" font-size="6.3" fill="#cc3d66" text-anchor="middle" stroke="#cc3d66" stroke-width="0.1">41</text>
<text x="406.24" y="442.40" font-size="6.3" fill="#446d94" text-anchor="middle" stroke="#446d94" stroke-width="0.1">26</text>
<text x="438.32" y="432.80" font-size="6.3" fill="#cc3d66" text-anchor="middle" stroke="#cc3d66" stroke-width="0.1">37</text>
<text x="438.32" y="442.40" font-size="6.3" fill="#446d94" text-anchor="middle" stroke="#446d94" stroke-width="0.1">16</text>
<text x="470.40" y="432.80" font-size="6.3" fill="#cc3d66" text-anchor="middle" stroke="#cc3d66" stroke-width="0.1">31</text>
<text x="470.40" y="442.40" font-size="6.3" fill="#446d94" text-anchor="middle" stroke="#446d94" stroke-width="0.1">9</text>
<text x="502.48" y="432.80" font-size="6.3" fill="#cc3d66" text-anchor="middle" stroke="#cc3d66" stroke-width="0.1">27</text>
<text x="502.48" y="442.40" font-size="6.3" fill="#446d94" text-anchor="middle" stroke="#446d94" stroke-width="0.1">3</text>
<line x1="0" y1="0.4" x2="520" y2="0.4" stroke="#555" stroke-width="0.9"/>
<line x1="0.65" y1="0" x2="0.65" y2="450" stroke="#666" stroke-width="1.3"/>
<line x1="519.4" y1="0" x2="519.4" y2="450" stroke="#444" stroke-width="1.2"/>
<line x1="0" y1="449.2" x2="520" y2="449.2" stroke="#444" stroke-width="1.6"/>
</svg>
</body></html>
